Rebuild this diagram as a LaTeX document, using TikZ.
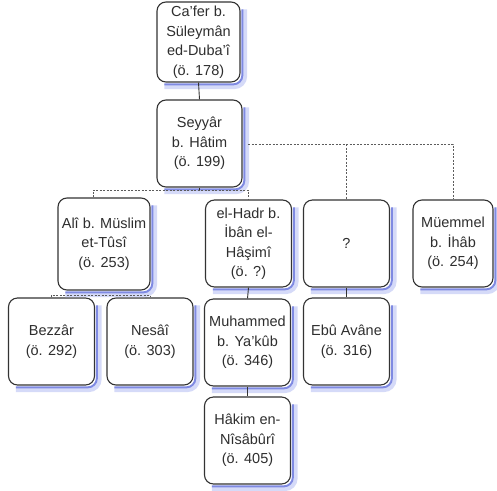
\documentclass[tikz,border=0pt]{standalone}
\usepackage{fontspec}
\setmainfont{Liberation Sans}
\definecolor{txt}{HTML}{2E2E2E}
\definecolor{edge}{HTML}{333333}
\definecolor{glowa}{HTML}{D5DAF8}
\definecolor{glowc}{HTML}{7F8AE2}
\begin{document}
\begin{tikzpicture}[x=1pt,y=-1pt,
  person/.style={draw=edge, line width=1.1pt, rounded corners=9pt, fill=white,
    minimum width=86pt, minimum height=87pt, inner sep=1pt, align=center,
    text=txt, font=\fontsize{14.5}{19.5}\selectfont},
  glowwide/.style={draw=glowa, line width=5pt, rounded corners=10pt},
  glownarrow/.style={draw=glowc, line width=2pt, rounded corners=9pt},
  solidline/.style={draw=edge, line width=0.9pt},
  dotline/.style={draw=edge!80, line width=0.9pt, dash pattern=on 2pt off 1.5pt}]
\useasboundingbox (0,0) rectangle (497,490);
\node[person, minimum width=83pt, minimum height=80pt] (cafer) at (198.5,42) {Ca'fer b.\\Süleymân\\ed-Duba'î\\(ö. 178)};
\node[person, minimum width=85pt] (seyyar) at (199.5,143.5) {Seyyâr\\b. Hâtim\\(ö. 199)};
\node[person, minimum width=92pt, minimum height=92pt] (ali) at (104,244) {Alî b. Müslim\\et-Tûsî\\(ö. 253)};
\node[person] (hadr) at (248.5,243.5) {el-Hadr b.\\İbân el-\\Hâşimî\\(ö. ?)};
\node[person] (unk) at (346.5,243.5) {?};
\node[person, minimum width=80pt] (muemmel) at (453,243.5) {Müemmel\\b. İhâb\\(ö. 254)};
\node[person] (bezzar) at (51.5,341.5) {Bezzâr\\(ö. 292)};
\node[person] (nesai) at (150,341.5) {Nesâî\\(ö. 303)};
\node[person] (muhammed) at (247.5,342.5) {Muhammed\\b. Ya'kûb\\(ö. 346)};
\node[person] (ebu) at (346.5,341.5) {Ebû Avâne\\(ö. 316)};
\node[person] (hakim) at (247.5,440.5) {Hâkim en-\\Nîsâbûrî\\(ö. 405)};
% blue glow along the right and bottom edges of each box
\foreach \n in {cafer,seyyar,ali,hadr,unk,muemmel,bezzar,nesai,muhammed,ebu,hakim}{
  \draw[glowwide] ([xshift=4pt,yshift=-8pt]\n.north east) |- ([xshift=8pt,yshift=-4pt]\n.south west);
  \draw[glownarrow] ([xshift=1.8pt,yshift=-8pt]\n.north east) |- ([xshift=8pt,yshift=-1.8pt]\n.south west);
}
% connectors
\coordinate (sb) at (199.5,190);
\coordinate (lb) at (93,190);
\coordinate (rb) at (248.5,190);
\coordinate (ta) at (248,144);
\coordinate (tm) at (346.5,144);
\coordinate (tr) at (453,144);
\coordinate (bl) at (51.5,295);
\coordinate (br) at (150,295);
\draw[solidline] (cafer.south) -- (seyyar.north);
\draw[solidline] (seyyar.south) -- (sb);
\draw[dotline] (ali.north -| lb) -- (lb) -- (rb) -- (hadr.north);
\draw[dotline] (ta) -- (tr) -- (muemmel.north);
\draw[dotline] (tm) -- (unk.north);
\draw[dotline] (bezzar.north) -- (bl) -- (br) -- (nesai.north);
\draw[solidline] (hadr.south) -- (muhammed.north);
\draw[solidline] (unk.south) -- (ebu.north);
\draw[solidline] (muhammed.south) -- (hakim.north);
\end{tikzpicture}
\end{document}
